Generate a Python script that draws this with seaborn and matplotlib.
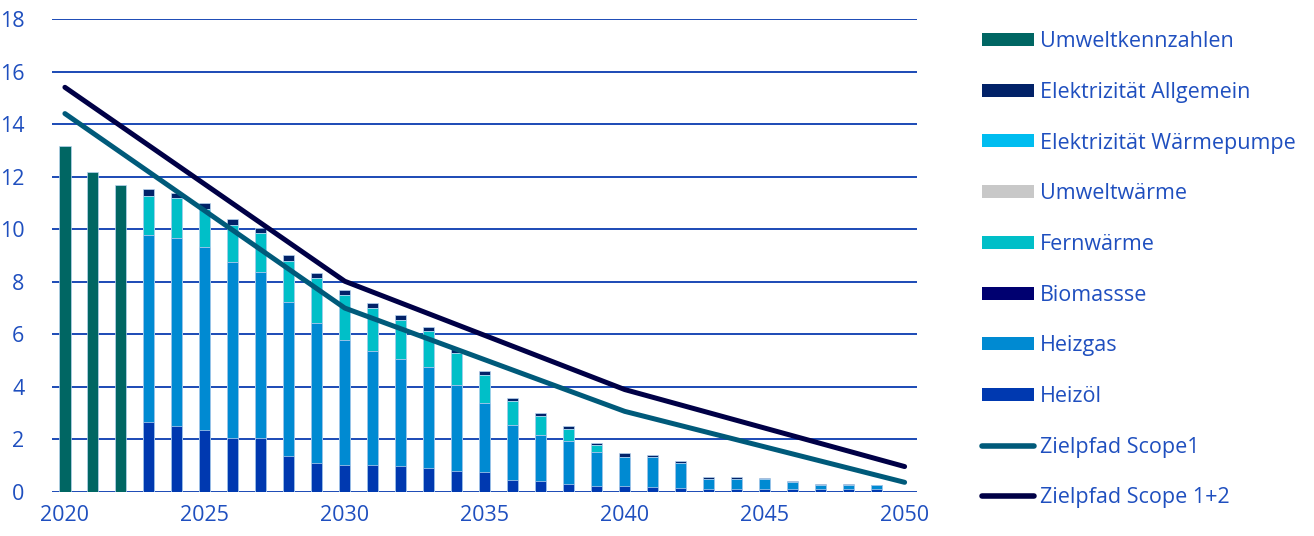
import numpy as np
import pandas as pd
import matplotlib
matplotlib.use("Agg")
import matplotlib.pyplot as plt
from matplotlib.patches import Patch
from matplotlib.lines import Line2D
import seaborn as sns

# ---- data -------------------------------------------------------------
years = list(range(2020, 2051))

umweltkennzahlen = [13.18, 12.18, 11.68] + [0] * 28

heizoel = [0, 0, 0,
           2.65, 2.52, 2.35, 2.04, 2.04, 1.38, 1.11, 1.04, 1.04, 0.99,
           0.92, 0.79, 0.75, 0.47, 0.42, 0.32, 0.24, 0.23, 0.19, 0.16,
           0.13, 0.13, 0.13, 0.13, 0.13, 0.13, 0.12, 0]
heizgas = [0, 0, 0,
           7.14, 7.14, 6.98, 6.71, 6.33, 5.84, 5.33, 4.76, 4.33, 4.07,
           3.84, 3.28, 2.65, 2.09, 1.75, 1.61, 1.29, 1.11, 1.13, 0.93,
           0.38, 0.37, 0.35, 0.25, 0.13, 0.13, 0.13, 0]
biomasse = [0] * 31
fernwaerme = [0, 0, 0,
              1.49, 1.52, 1.44, 1.42, 1.47, 1.58, 1.69, 1.70, 1.63, 1.50,
              1.35, 1.23, 1.06, 0.90, 0.71, 0.48, 0.26, 0, 0, 0,
              0, 0, 0, 0, 0, 0, 0, 0]
umweltwaerme = [0] * 31
el_waermepumpe = [0] * 31
el_allgemein = [0, 0, 0,
                0.24, 0.19, 0.21, 0.23, 0.19, 0.21, 0.19, 0.19, 0.18, 0.18,
                0.17, 0.15, 0.13, 0.13, 0.11, 0.09, 0.09, 0.13, 0.09, 0.09,
                0.07, 0.07, 0.05, 0.04, 0.04, 0.04, 0, 0]

path_years = [2020, 2030, 2040, 2050]
zielpfad_scope1 = [14.4, 7.0, 3.07, 0.37]
zielpfad_scope12 = [15.4, 8.02, 3.9, 0.97]

y_ticks = [0, 2, 4, 6, 8, 10, 12, 14, 16, 18]
x_ticks = [2020, 2025, 2030, 2035, 2040, 2045, 2050]

# ---- styling ----------------------------------------------------------
sns.set_theme(style="white")
plt.rcParams["font.family"] = ["Open Sans", "DejaVu Sans"]

TEXT = "#1f4fbf"
GRID = "#0a3cb0"

colors = {
    "Umweltkennzahlen": "#006663",
    "Elektrizität Allgemein": "#022268",
    "Elektrizität Wärmepumpe": "#00bdf0",
    "Umweltwärme": "#c8c8c8",
    "Fernwärme": "#00bfc8",
    "Biomassse": "#000070",
    "Heizgas": "#008ad2",
    "Heizöl": "#0039b0",
}
c_scope1 = "#005a7a"
c_scope12 = "#000046"

fig = plt.figure(figsize=(13.14, 5.36), dpi=100)
ax = fig.add_axes([0.0396, 0.082, 0.658, 0.8826])

# stacked bars, bottom layer first; each layer drawn as its cumulative top
stack = [
    ("Heizöl", heizoel),
    ("Heizgas", heizgas),
    ("Biomassse", biomasse),
    ("Fernwärme", fernwaerme),
    ("Umweltwärme", umweltwaerme),
    ("Elektrizität Wärmepumpe", el_waermepumpe),
    ("Elektrizität Allgemein", el_allgemein),
]
cum = np.cumsum([np.array(v, dtype=float) for _, v in stack], axis=0)
for (name, _), top in reversed(list(zip(stack, cum))):
    df = pd.DataFrame({"Jahr": years, "Wert": top})
    df = df[df["Wert"] > 0]
    sns.barplot(data=df, x="Jahr", y="Wert", native_scale=True, color=colors[name],
                saturation=1, width=0.4, edgecolor="#b8d4f0", linewidth=0.5,
                errorbar=None, ax=ax, zorder=3)

df_u = pd.DataFrame({"Jahr": years, "Wert": umweltkennzahlen})
df_u = df_u[df_u["Wert"] > 0]
sns.barplot(data=df_u, x="Jahr", y="Wert", native_scale=True,
            color=colors["Umweltkennzahlen"], saturation=1, width=0.4,
            edgecolor="#b8d4f0", linewidth=0.5, errorbar=None, ax=ax, zorder=3)

# target paths
sns.lineplot(x=path_years, y=zielpfad_scope1, color=c_scope1, linewidth=3.6,
             ax=ax, zorder=4, solid_capstyle="round", solid_joinstyle="round")
sns.lineplot(x=path_years, y=zielpfad_scope12, color=c_scope12, linewidth=3.6,
             ax=ax, zorder=4, solid_capstyle="round", solid_joinstyle="round")

ax.set_xlim(2019.54, 2050.43)
ax.set_ylim(0, 18)
ax.set_yticks(y_ticks)
ax.set_xticks(x_ticks)
ax.set_xticklabels([str(t) for t in x_ticks])
ax.set_xlabel("")
ax.set_ylabel("")
for s in ax.spines.values():
    s.set_visible(False)
ax.yaxis.grid(True, color=GRID, linewidth=1.3, zorder=1)
ax.xaxis.grid(False)
ax.set_axisbelow(True)
ax.tick_params(axis="y", length=0, pad=20, labelsize=15.5, labelcolor=TEXT)
ax.tick_params(axis="x", length=0, pad=9, labelsize=15.5, labelcolor=TEXT)

legend_order = ["Umweltkennzahlen", "Elektrizität Allgemein", "Elektrizität Wärmepumpe",
                "Umweltwärme", "Fernwärme", "Biomassse", "Heizgas", "Heizöl"]
handles = [Patch(facecolor=colors[n], edgecolor="none", label=n) for n in legend_order]
handles += [
    Line2D([0], [0], color=c_scope1, linewidth=4, solid_capstyle="round",
           label="Zielpfad Scope1"),
    Line2D([0], [0], color=c_scope12, linewidth=4, solid_capstyle="round",
           label="Zielpfad Scope 1+2"),
]
leg = fig.legend(handles=handles, loc="upper left", bbox_to_anchor=(0.741, 0.958),
                 frameon=False, fontsize=15.5, handlelength=2.42, handleheight=0.55,
                 handletextpad=0.25, labelspacing=1.38, borderaxespad=0)
for t in leg.get_texts():
    t.set_color(TEXT)

fig.savefig("out.png", dpi=100)
